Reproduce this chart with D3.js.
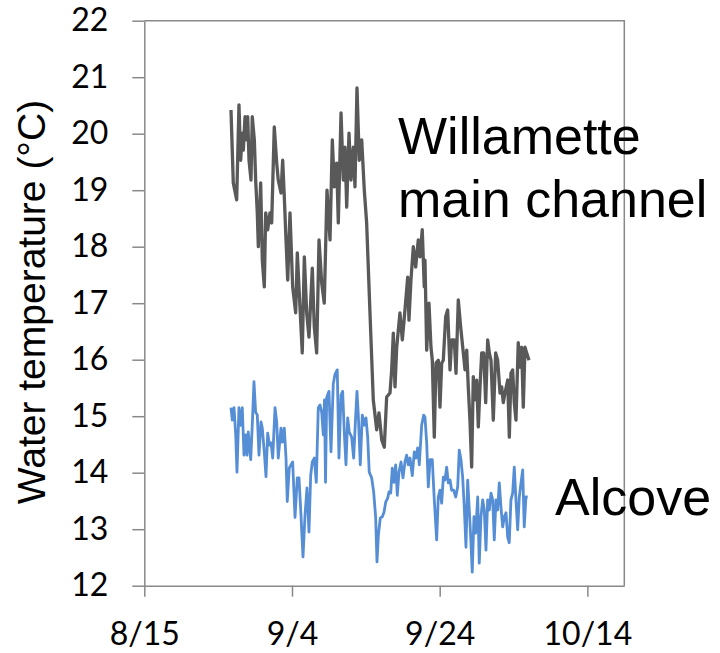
<!DOCTYPE html>
<html>
<head>
<meta charset="utf-8">
<script src="https://cdn.jsdelivr.net/npm/d3@7"></script>
<style>
  body { margin: 0; background: white; }
</style>
</head>
<body>
<svg id="plot"></svg>
<script>
// Data: days after 8/15 and water temperature (°C)
const mainDays = [11.74,12.05,12.51,12.82,13.05,13.27,13.41,13.64,13.87,14.00,14.18,14.45,14.62,14.90,15.08,15.30,15.44,15.76,15.98,16.25,16.44,16.71,17.02,17.25,17.60,17.93,18.14,18.51,18.74,18.96,19.19,19.42,19.73,20.09,20.50,20.72,21.08,21.39,21.67,21.99,22.30,22.75,23.02,23.34,23.66,24.02,24.37,24.74,25.15,25.46,25.73,26.05,26.27,26.64,26.95,27.18,27.41,27.72,27.99,28.30,28.53,28.80,29.11,29.44,29.79,30.11,30.56,31.01,31.47,31.78,32.15,32.50,32.82,33.27,33.50,33.72,33.95,34.18,34.62,34.94,35.30,35.67,35.84,36.11,36.43,36.75,37.10,37.33,37.64,37.91,38.01,38.24,38.55,38.82,39.00,39.27,39.50,39.81,40.04,40.27,40.49,40.81,41.08,41.40,41.62,41.98,42.21,42.52,42.84,43.20,43.43,43.66,43.87,44.10,44.33,44.55,44.78,45.01,45.23,45.46,45.69,45.96,46.23,46.50,46.72,46.95,47.26,47.58,47.85,48.17,48.40,48.61,48.84,49.21,49.43,49.65,49.88,50.10,50.33,50.64,50.87,51.10,51.32,51.55,51.78,52.09];
const mainTemps = [20.42,19.13,18.83,20.51,19.53,20.01,19.71,20.30,19.89,20.30,19.53,19.18,20.30,19.89,19.18,18.60,18.00,19.13,17.76,17.29,18.60,18.30,18.60,18.42,20.12,19.48,19.18,18.95,19.53,18.88,18.12,17.41,18.60,17.29,16.83,17.89,16.93,16.12,17.82,16.83,16.40,17.62,16.58,16.12,18.12,17.36,17.00,19.00,18.12,19.89,19.06,19.48,18.42,20.37,19.18,19.76,18.70,20.01,19.18,19.76,19.06,20.81,19.53,19.89,19.00,18.42,16.83,15.29,14.76,15.06,14.58,14.45,15.34,15.41,15.82,16.47,15.52,16.22,16.83,16.35,16.88,17.46,16.70,17.41,18.00,17.64,18.12,17.82,18.30,17.29,17.76,16.17,17.00,16.22,15.99,14.63,15.94,15.99,15.16,15.94,15.99,16.76,16.88,15.82,16.35,16.35,15.76,17.06,16.58,16.12,15.82,16.17,15.52,14.93,14.10,15.70,15.29,15.64,14.81,15.52,16.12,16.12,15.24,16.35,16.12,15.99,14.93,16.12,15.99,15.41,15.52,15.24,15.41,15.64,14.63,15.76,15.82,15.24,14.93,16.30,15.87,16.22,15.16,16.22,16.12,15.99];

const alcoveDays = [11.74,11.92,12.15,12.38,12.55,12.82,13.09,13.27,13.50,13.73,13.91,14.08,14.41,14.62,14.85,15.08,15.30,15.53,15.80,15.98,16.25,16.48,16.71,16.93,17.16,17.39,17.70,17.93,18.14,18.51,18.69,18.96,19.19,19.36,19.63,19.86,20.09,20.41,20.72,20.95,21.22,21.49,21.76,22.03,22.30,22.53,22.75,23.02,23.29,23.56,23.79,24.02,24.24,24.40,24.54,24.70,25.01,25.28,25.59,25.82,26.13,26.36,26.64,26.86,27.08,27.31,27.54,27.76,28.08,28.35,28.63,28.80,28.98,29.25,29.52,29.79,30.02,30.25,30.46,30.79,31.06,31.33,31.51,31.70,31.96,32.23,32.46,32.69,32.96,33.13,33.37,33.58,33.81,34.04,34.26,34.49,34.76,35.03,35.30,35.53,35.75,35.98,36.29,36.56,36.79,37.02,37.24,37.56,37.83,38.01,38.24,38.46,38.70,39.00,39.27,39.59,39.81,40.04,40.27,40.49,40.72,40.95,41.16,41.40,41.62,41.90,42.17,42.44,42.65,42.88,43.11,43.33,43.56,43.79,44.01,44.20,44.41,44.64,44.87,45.15,45.36,45.59,45.82,46.04,46.27,46.50,46.72,46.95,47.18,47.39,47.62,47.85,48.07,48.30,48.53,48.75,48.98,49.21,49.42,49.65,49.88,50.10,50.33,50.56,50.78,51.01,51.24,51.45,51.68,51.92];
const alcoveTemps = [15.15,14.93,15.15,14.67,14.01,15.15,14.84,15.15,14.31,14.67,14.31,14.72,14.23,14.84,15.61,15.07,15.02,14.31,14.90,14.79,14.37,13.93,14.70,14.49,14.53,14.26,15.15,14.90,14.26,14.79,14.54,14.79,14.26,13.49,14.08,14.14,14.19,13.21,13.91,13.91,13.24,12.51,13.24,13.73,12.95,13.95,14.19,14.26,13.83,15.15,15.20,15.07,14.67,15.29,13.83,15.33,15.44,14.37,15.57,15.74,15.82,14.26,15.37,15.44,14.72,14.14,14.97,14.72,14.63,14.26,15.02,15.44,15.02,14.14,15.02,14.84,14.97,14.63,14.01,13.91,13.66,13.21,12.42,12.90,13.20,13.22,13.30,13.48,13.55,13.66,13.64,14.08,13.83,14.14,13.60,14.01,14.19,13.91,14.19,14.31,14.14,14.26,13.95,14.37,14.26,14.44,14.14,14.84,15.02,14.98,14.53,13.75,14.23,14.23,13.52,12.81,13.57,13.69,13.46,13.92,13.87,14.10,13.82,13.87,13.69,13.69,13.57,13.75,14.40,14.23,13.92,13.39,12.68,13.87,13.34,12.86,12.24,13.22,12.93,13.57,12.40,13.22,13.52,13.34,12.63,13.52,13.34,13.64,13.52,12.81,13.52,13.34,13.82,13.39,13.04,13.22,13.29,12.86,12.76,13.52,13.64,14.10,13.52,12.99,13.57,13.82,14.05,13.04,13.57,13.57];

const yTicks = [12, 13, 14, 15, 16, 17, 18, 19, 20, 21, 22];
const xTickLabels = ['8/15', '9/4', '9/24', '10/14'];
const xEndLabel = '10/19';

let width = 720, height = 653;
let margin = { top: 20.7, bottom: 67.3, left: 144.3, right: 95.7 };

let svg = d3.select('#plot')
  .attr('width', width)
  .attr('height', height)
  .style('background', 'white');

const parseDay = d3.timeParse('%m/%d');
const base = parseDay(xTickLabels[0]);
const toDate = d => new Date(base.getTime() + d * 864e5);

let xScale = d3.scaleTime()
  .domain([base, parseDay(xEndLabel)])
  .range([margin.left, width - margin.right]);

let yScale = d3.scaleLinear()
  .domain([d3.min(yTicks), d3.max(yTicks)])
  .range([height - margin.bottom, margin.top]);

const axisColor = '#898989';

// plot area frame (top and right)
svg.append('path')
  .attr('d', `M${margin.left},${margin.top}H${width - margin.right}V${height - margin.bottom}`)
  .attr('fill', 'none')
  .attr('stroke', axisColor)
  .attr('stroke-width', 1.5);

let yAxis = svg.append('g')
  .attr('transform', `translate(${margin.left},0)`)
  .call(d3.axisLeft(yScale).tickValues(yTicks).tickFormat(d3.format('d'))
    .tickSize(12).tickSizeOuter(0).tickPadding(24));

let xAxis = svg.append('g')
  .attr('transform', `translate(0,${height - margin.bottom})`)
  .call(d3.axisBottom(xScale).tickValues(xTickLabels.map(parseDay))
    .tickFormat((d, i) => xTickLabels[i])
    .tickSize(11).tickSizeOuter(0).tickPadding(26));

[xAxis, yAxis].forEach(g => {
  g.selectAll('path, line').attr('stroke', axisColor).attr('stroke-width', 1.5);
  g.selectAll('text')
    .attr('fill', '#000')
    .style('font-family', 'Lato, "Open Sans", sans-serif')
    .style('font-size', '32px');
});

let line = d3.line()
  .x(d => xScale(toDate(d[0])))
  .y(d => yScale(d[1]));

svg.append('path')
  .datum(mainDays.map((d, i) => [d, mainTemps[i]]))
  .attr('d', line)
  .attr('fill', 'none')
  .attr('stroke', '#595959')
  .attr('stroke-width', 3.3)
  .attr('stroke-linejoin', 'round');

svg.append('path')
  .datum(alcoveDays.map((d, i) => [d, alcoveTemps[i]]))
  .attr('d', line)
  .attr('fill', 'none')
  .attr('stroke', '#558ED5')
  .attr('stroke-width', 2.8)
  .attr('stroke-linejoin', 'round');

// labels
const labelFont = '"Liberation Sans", Arial, sans-serif';

let lbl = svg.append('text')
  .attr('x', 398)
  .attr('y', 154)
  .style('font-family', labelFont)
  .style('font-size', '52px')
  .attr('fill', '#000');
lbl.append('tspan').attr('x', 398).text('Willamette');
lbl.append('tspan').attr('x', 398).attr('dy', 63).text('main channel');

svg.append('text')
  .attr('x', 555)
  .attr('y', 515)
  .style('font-family', labelFont)
  .style('font-size', '52px')
  .attr('fill', '#000')
  .text('Alcove');

svg.append('text')
  .attr('transform', 'rotate(-90)')
  .attr('x', -302)
  .attr('y', 45)
  .attr('text-anchor', 'middle')
  .style('font-family', labelFont)
  .style('font-size', '39px')
  .attr('fill', '#000')
  .text('Water temperature (°C)');
</script>
</body>
</html>
